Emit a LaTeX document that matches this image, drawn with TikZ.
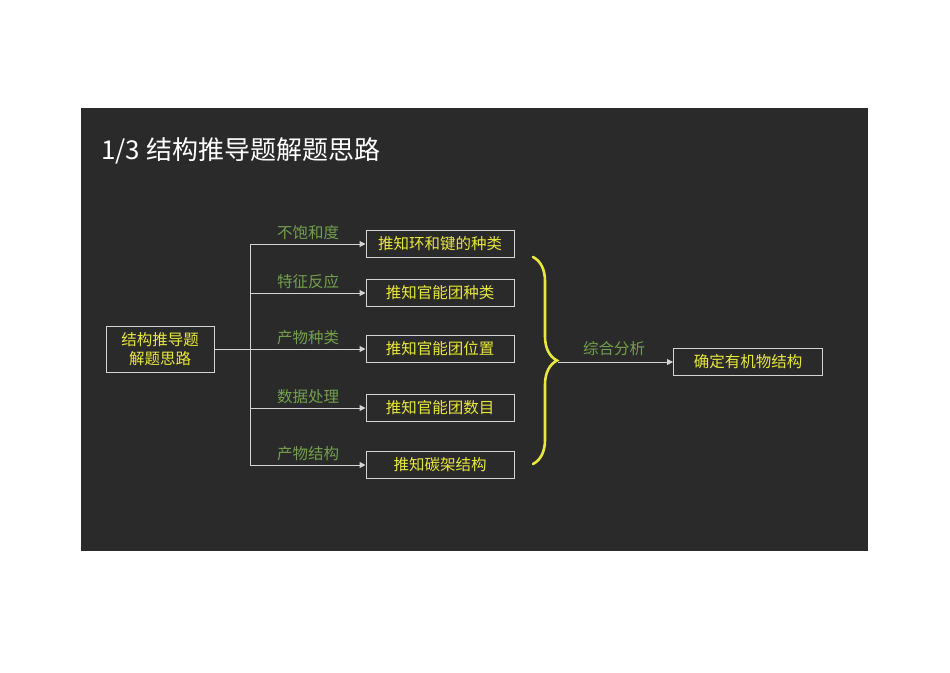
\documentclass[tikz,border=0pt]{standalone}
\usepackage{fontspec}
\setmainfont{Noto Sans CJK SC}
\usetikzlibrary{arrows.meta,decorations.pathreplacing}
\definecolor{board}{HTML}{2A2A2A}
\definecolor{chalkyel}{HTML}{E8E83C}
\definecolor{chalkgrn}{HTML}{72A04C}
\definecolor{chalkwht}{HTML}{D4D4D4}

\begin{document}
\begin{tikzpicture}[x=1pt, y=-1pt,
  resbox/.style={draw=chalkwht, line width=1pt, text=chalkyel, font=\fontsize{15.5}{17}\selectfont, minimum height=27pt, inner sep=0pt},
  branch/.style={text=chalkgrn, font=\fontsize{15.5}{17}\selectfont, inner sep=0pt},
  link/.style={chalkwht, line width=1pt},
  arr/.style={link, -{Triangle[length=6pt,width=6pt]}}]
%page and board
\useasboundingbox (0,0) rectangle (950,672);
\fill[white] (0,0) rectangle (950,672);
\fill[board] (81,108) rectangle (868,551);
\node[anchor=base west, text=white, font=\fontsize{26}{30}\selectfont, inner sep=0pt] (title) at (101,159) {1/3 结构推导题解题思路};

%left box and trunk coordinates
\node[resbox, minimum width=108pt, minimum height=46pt, align=center, font=\fontsize{15.5}{19}\selectfont] (main) at (160,349) {结构推导题\\解题思路};
\coordinate (trunkm) at (250,349); \coordinate (trunkt) at (250,244); \coordinate (trunkb) at (250,465);

%result boxes
\node[resbox, minimum width=148pt] (res1) at (440,244) {推知环和键的种类};
\node[resbox, minimum width=148pt] (res2) at (440,293) {推知官能团种类};
\node[resbox, minimum width=148pt] (res3) at (440,349) {推知官能团位置};
\node[resbox, minimum width=148pt] (res4) at (440,408) {推知官能团数目};
\node[resbox, minimum width=148pt] (res5) at (440,465) {推知碳架结构};
\node[resbox, minimum width=149pt] (final) at (748,362) {确定有机物结构};

%trunk
\draw[link] (main.east) -- (trunkm);
\draw[link] (trunkt) -- (trunkb);
%branches
\foreach \i/\lab in {1/不饱和度,2/特征反应,3/产物种类,4/数据处理,5/产物结构}{
  \draw[arr] (trunkt |- res\i.west) -- (res\i.west);
  \node[branch, anchor=base] (lab\i) at ([yshift=6pt]308,0 |- res\i.west) {\lab};
}

%brace
\coordinate (bract) at (533,257); \coordinate (bracb) at (533,464); \coordinate (bracetip) at (558,362);
\draw[chalkyel, line width=2.6pt, line cap=round, decorate, decoration={brace, amplitude=24pt, aspect=0.5}] (bract) -- (bracb);
\draw[arr] (bracetip) -- (final.west);
\node[branch, anchor=base] (labsum) at (614,354) {综合分析};
\end{tikzpicture}
\end{document}
